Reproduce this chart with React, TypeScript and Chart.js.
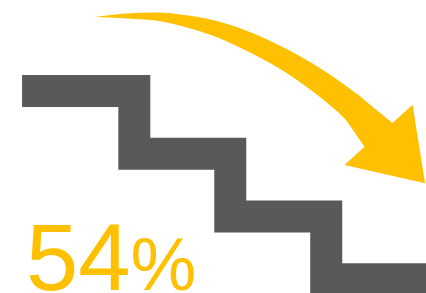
import React, { useEffect, useRef } from "react";
import { Chart, registerables } from "chart.js";

Chart.register(...registerables);

// Staircase: each tread's level (top step = 4) and the x where each riser sits
const stairX = [-0.17, 1, 2, 3, 4.2];
const stairLevels = [4, 3, 2, 1, 1];

// Curved arrow: outer (upper) edge and inner (lower) edge of the shaft
const arrowOuterX = [0.59, 0.88, 1.24, 1.48, 1.82, 2.17, 2.52, 2.97, 3.32, 3.69];
const arrowOuterY = [5.18, 5.23, 5.25, 5.22, 5.13, 4.96, 4.72, 4.33, 3.95, 3.49];
const arrowInnerX = [0.59, 0.88, 1.24, 1.48, 1.82, 2.17, 2.52, 2.71, 2.97, 3.22, 3.4];
const arrowInnerY = [5.18, 5.16, 5.12, 5.04, 4.88, 4.64, 4.35, 4.16, 3.86, 3.51, 3.11];
// Arrow head
const arrowHeadX = [3.32, 3.69, 3.9, 4.03, 3.19, 3.4, 3.22, 3.32];
const arrowHeadY = [3.95, 3.49, 3.78, 2.53, 2.82, 3.11, 3.51, 3.95];

const valueText = "54";
const unitText = "%";

const GREY = "#595959";
const GOLD = "#FFC000";

const textPlugin = {
  id: "bigValue",
  afterDraw(chart: any) {
    const ctx = chart.ctx;
    ctx.save();
    ctx.fillStyle = GOLD;
    ctx.textBaseline = "alphabetic";
    ctx.textAlign = "left";
    ctx.font = "94px 'Liberation Sans', Arial, sans-serif";
    const x0 = 26;
    const base = 290;
    ctx.fillText(valueText, x0, base);
    const w = ctx.measureText(valueText).width;
    ctx.font = "74px 'Liberation Sans', Arial, sans-serif";
    ctx.fillText(unitText, x0 + w, base);
    ctx.restore();
  },
};

export default function App() {
  const ref = useRef<HTMLCanvasElement>(null);

  useEffect(() => {
    const canvas = ref.current;
    if (!canvas) return;
    const pts = (xs: number[], ys: number[]) => xs.map((x, i) => ({ x, y: ys[i] }));
    const chart = new Chart(canvas, {
      type: "scatter",
      data: {
        datasets: [
          {
            data: pts(stairX, stairLevels),
            showLine: true,
            stepped: "before",
            borderColor: GREY,
            borderWidth: 32,
            borderJoinStyle: "miter",
            borderCapStyle: "butt",
            pointRadius: 0,
            fill: false,
          } as any,
          {
            data: pts(arrowOuterX, arrowOuterY),
            showLine: true,
            cubicInterpolationMode: "monotone",
            borderWidth: 0,
            backgroundColor: GOLD,
            pointRadius: 0,
            fill: "+1",
          } as any,
          {
            data: pts(arrowInnerX, arrowInnerY),
            showLine: true,
            cubicInterpolationMode: "monotone",
            borderWidth: 0,
            backgroundColor: GOLD,
            pointRadius: 0,
            fill: false,
          } as any,
          {
            data: pts(arrowHeadX, arrowHeadY),
            showLine: true,
            tension: 0,
            borderWidth: 0,
            backgroundColor: GOLD,
            pointRadius: 0,
            fill: "shape",
          } as any,
        ],
      },
      options: {
        responsive: false,
        animation: false,
        devicePixelRatio: 1,
        layout: { padding: 0 },
        plugins: {
          legend: { display: false },
          tooltip: { enabled: false },
          title: { display: false },
        },
        scales: {
          x: { type: "linear", min: -0.4, max: 4.04, display: false },
          y: { type: "linear", min: 0.78, max: 5.45, display: false },
        },
      },
      plugins: [textPlugin],
    });
    return () => chart.destroy();
  }, []);

  return (
    <div style={{ position: "absolute", left: 0, top: 0, width: 426, height: 293, background: "#fff" }}>
      <canvas ref={ref} width={426} height={293} />
    </div>
  );
}
